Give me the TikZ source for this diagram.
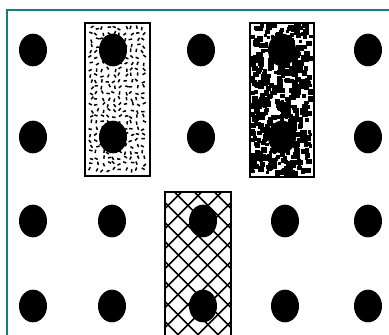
\documentclass[tikz,border=0pt]{standalone}
\usepackage{tikz}
\usetikzlibrary{shapes.geometric, patterns.meta}
\definecolor{frameteal}{HTML}{137F7F}

\begin{document}
\begin{tikzpicture}[x=0.75pt, y=-0.75pt,
  pin/.style={ellipse, fill=black, inner sep=0pt, minimum width=21pt, minimum height=24.5pt},
  box/.style={draw=black, line width=1.3pt},
  hatch/.style={pattern={Lines[angle=#1, distance=10.5pt, line width=1.4pt]}}
]
\useasboundingbox (0,0) rectangle (389,335);
\draw[frameteal, line width=2.2pt] (389,10) -| (7,336);

% stippled box
\pgfmathsetseed{7}
\foreach \i in {0,...,9}{
  \foreach \j in {0,...,24}{
    \pgfmathsetmacro\px{91+5.8*\i+3*rnd-1.5}
    \pgfmathsetmacro\py{28+5.9*\j+3*rnd-1.5}
    \pgfmathsetmacro\pa{180*rnd}
    \fill[black, rotate around={\pa:(\px,\py)}] (\px-1.7,\py-0.75) rectangle (\px+1.7,\py+0.75);
  }
}
\draw[box] (85,23) rectangle (150,176);

% speckled box
\foreach \k in {1,...,520}{
  \pgfmathsetmacro\px{252+59*rnd}
  \pgfmathsetmacro\py{25+149*rnd}
  \pgfmathsetmacro\ps{1.5+1.5*rnd}
  \fill[black] (\px-\ps,\py-\ps) rectangle (\px+\ps,\py+\ps);
}
\draw[box] (250,23) rectangle (314,177);

% cross-hatched box
\fill[hatch=45] (165,192) rectangle (231,336);
\fill[hatch=-45] (165,192) rectangle (231,336);
\draw[box] (165,336) |- (231,192) -- (231,336);

% pegs
\foreach \c/\x in {1/33,2/113,3/201,4/282,5/368}{
  \node[pin] (d1\c) at (\x,50) {};
  \node[pin] (d2\c) at (\x,137) {};
}
\foreach \c/\x in {1/33,2/112,3/203,4/285,5/368}{
  \node[pin] (d3\c) at (\x,221) {};
  \node[pin] (d4\c) at (\x,306) {};
}
\end{tikzpicture}
\end{document}
